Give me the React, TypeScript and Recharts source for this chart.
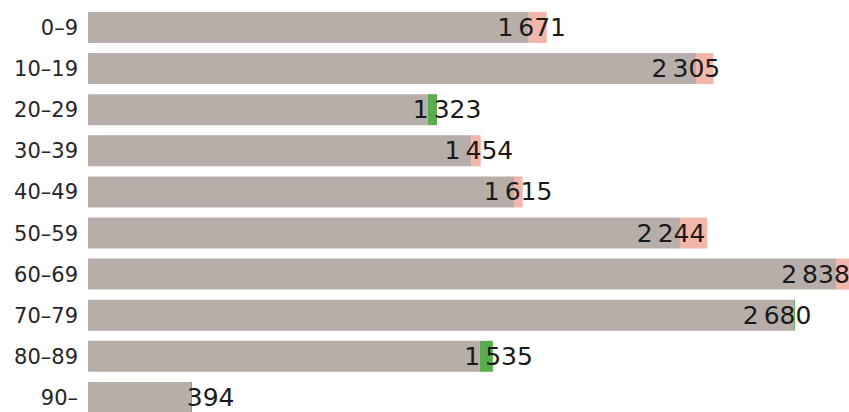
import { BarChart, Bar, XAxis, YAxis, LabelList } from 'recharts';

const categories = ['0–9', '10–19', '20–29', '30–39', '40–49', '50–59', '60–69', '70–79', '80–89', '90–'];
const current = [1671, 2305, 1323, 1454, 1615, 2244, 2838, 2680, 1535, 394];
const previous = [1739, 2371, 1288, 1489, 1648, 2348, 2885, 2675, 1485, 390];

const BASE = '#b7ada9';
const UP = '#5aad4c';
const DOWN = '#f3b6aa';

const data = categories.map((name, i) => ({
  name,
  cur: current[i],
  base: Math.min(current[i], previous[i]),
  up: Math.max(0, current[i] - previous[i]),
  down: Math.max(0, previous[i] - current[i]),
}));

function fmt(v: number): string {
  return String(v).replace(/\B(?=(\d{3})+(?!\d))/g, '\u2009');
}

function ValueLabel(props: any) {
  const { x, y, width, height, index } = props;
  const d = data[index];
  const full = (width * d.cur) / d.base;
  return (
    <text
      x={x + full * 0.922 + 3}
      y={y + height / 2}
      dominantBaseline="central"
      fontSize={25}
      fill="#1a1a1a"
      fontFamily="DejaVu Sans, sans-serif"
    >
      {fmt(d.cur)}
    </text>
  );
}

export default function App() {
  return (
    <div style={{ position: 'absolute', left: 0, top: 0, width: 849, height: 412, overflow: 'hidden', background: '#fff' }}>
      <BarChart
        width={849}
        height={418}
        data={data}
        layout="vertical"
        margin={{ top: 7, right: 0, left: 0, bottom: 0 }}
        barSize={31}
      >
        <XAxis type="number" hide domain={[0, 2885]} allowDataOverflow />
        <YAxis
          type="category"
          dataKey="name"
          width={88}
          axisLine={false}
          tickLine={false}
          tickSize={0}
          tickMargin={10}
          tick={{ fontSize: 21, fill: '#262626', fontFamily: 'DejaVu Sans, sans-serif' }}
          interval={0}
        />
        <Bar dataKey="base" stackId="a" fill={BASE} isAnimationActive={false}>
          <LabelList dataKey="cur" content={ValueLabel} />
        </Bar>
        <Bar dataKey="up" stackId="a" fill={UP} isAnimationActive={false} />
        <Bar dataKey="down" stackId="a" fill={DOWN} isAnimationActive={false} />
      </BarChart>
    </div>
  );
}
